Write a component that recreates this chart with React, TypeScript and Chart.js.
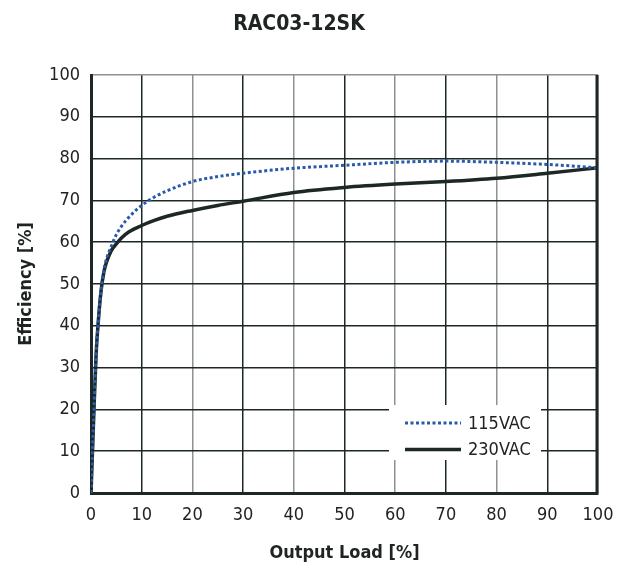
import React, { useEffect, useRef } from "react";
import { Chart, registerables } from "chart.js";

Chart.register(...registerables);

const TITLE = "RAC03-12SK";
const X_TITLE = "Output Load [%]";
const Y_TITLE = "Efficiency [%]";
const SERIES_NAMES = ["115VAC", "230VAC"];
const LOAD = [0, 0.5, 1, 1.5, 2, 2.5, 3, 4, 5, 6, 7.5, 10, 12.5, 15, 20, 25, 30, 40, 50, 60, 70, 80, 90, 100];
const EFF_115 = [0, 17, 33, 42, 48.5, 53, 55.8, 59, 61.8, 63.8, 66, 68.8, 70.8, 72.3, 74.5, 75.7, 76.5, 77.7, 78.4, 79.1, 79.4, 79.1, 78.6, 77.8];
const EFF_230 = [0, 17, 33, 42, 48.5, 52.6, 55, 58, 59.6, 61, 62.5, 64, 65.2, 66.2, 67.6, 68.8, 69.8, 71.9, 73.1, 73.9, 74.5, 75.3, 76.5, 77.8];
const X_TICKS = [0, 10, 20, 30, 40, 50, 60, 70, 80, 90, 100];
const Y_TICKS = [0, 10, 20, 30, 40, 50, 60, 70, 80, 90, 100];

const FONT = '"Liberation Sans Narrow", "DejaVu Sans Condensed", "Arial Narrow", sans-serif';
const DARK = "#1c2726";
const GRAY = "#8d9292";
const BLUE = "#2a5ba8";

const framePlugin = {
  id: "frame",
  afterDatasetsDraw(chart: any) {
    const { ctx, chartArea } = chart;
    ctx.save();
    ctx.strokeStyle = DARK;
    ctx.lineWidth = 3;
    ctx.beginPath();
    ctx.moveTo(chartArea.right - 1, chartArea.top);
    ctx.lineTo(chartArea.right - 1, chartArea.bottom);
    ctx.stroke();
    ctx.restore();
  },
};

const legendPlugin = {
  id: "insideLegend",
  afterDraw(chart: any) {
    const { ctx, chartArea } = chart;
    const left = chartArea.right - 209;
    const top = chartArea.bottom - 88;
    ctx.save();
    ctx.fillStyle = "#ffffff";
    ctx.fillRect(left, top, 152, 55);
    chart.data.datasets.forEach((ds: any, i: number) => {
      const y = top + 18 + i * 26.5;
      ctx.strokeStyle = ds.borderColor;
      ctx.lineWidth = ds.borderWidth;
      ctx.setLineDash(ds.borderDash || []);
      ctx.beginPath();
      ctx.moveTo(left + 16, y);
      ctx.lineTo(left + 72, y);
      ctx.stroke();
      ctx.setLineDash([]);
      ctx.fillStyle = "#222";
      ctx.font = `18px ${FONT}`;
      ctx.textBaseline = "middle";
      ctx.textAlign = "left";
      ctx.fillText(ds.label, left + 79, y + 1);
    });
    ctx.restore();
  },
};

export default function App() {
  const ref = useRef<HTMLCanvasElement | null>(null);

  useEffect(() => {
    document.body.style.margin = "0";
    const canvas = ref.current;
    if (!canvas) return;
    const chart = new Chart(canvas, {
      type: "line",
      data: {
        datasets: [
          {
            label: SERIES_NAMES[0],
            data: LOAD.map((x, i) => ({ x, y: EFF_115[i] })),
            borderColor: BLUE,
            borderWidth: 3,
            borderDash: [3, 2.5],
            pointRadius: 0,
            cubicInterpolationMode: "monotone",
            fill: false,
          },
          {
            label: SERIES_NAMES[1],
            data: LOAD.map((x, i) => ({ x, y: EFF_230[i] })),
            borderColor: DARK,
            borderWidth: 3.5,
            pointRadius: 0,
            cubicInterpolationMode: "monotone",
            fill: false,
          },
        ],
      },
      options: {
        animation: false,
        responsive: false,
        devicePixelRatio: 1,
        layout: { padding: { left: 0, right: 28, top: 0, bottom: 0 } },
        plugins: {
          legend: { display: false },
          tooltip: { enabled: false },
          title: {
            display: true,
            text: TITLE,
            color: "#1e2422",
            font: { family: FONT, size: 21, weight: "bold" },
            padding: { top: 12, bottom: 37.8 },
          },
        },
        scales: {
          x: {
            type: "linear",
            min: 0,
            max: 100,
            afterBuildTicks: (s: any) => {
              s.ticks = X_TICKS.map((v) => ({ value: v }));
            },
            afterFit: (s: any) => {
              s.height = 75;
            },
            ticks: {
              color: "#222",
              font: { family: FONT, size: 18 },
              padding: 12,
              maxRotation: 0,
              autoSkip: false,
            },
            grid: {
              drawTicks: false,
              lineWidth: 1.5,
              color: (c: any) => (c.tick && c.tick.value % 20 === 0 ? GRAY : DARK),
            },
            border: { color: DARK, width: 3 },
            title: {
              display: true,
              text: X_TITLE,
              color: "#1e2422",
              font: { family: FONT, size: 18, weight: "bold" },
              padding: { top: 0, bottom: 4 },
            },
          },
          y: {
            type: "linear",
            min: 0,
            max: 100,
            afterBuildTicks: (s: any) => {
              s.ticks = Y_TICKS.map((v) => ({ value: v }));
            },
            afterFit: (s: any) => {
              s.width = 91;
            },
            ticks: {
              color: "#222",
              font: { family: FONT, size: 18 },
              padding: 11,
              autoSkip: false,
            },
            grid: {
              drawTicks: false,
              lineWidth: 1.5,
              color: (c: any) => (c.tick && c.tick.value === 100 ? GRAY : DARK),
            },
            border: { color: DARK, width: 3 },
            title: {
              display: true,
              text: Y_TITLE,
              color: "#1e2422",
              font: { family: FONT, size: 18, weight: "bold" },
              padding: { top: 16, bottom: 0 },
            },
          },
        },
      },
      plugins: [framePlugin, legendPlugin],
    } as any);
    return () => chart.destroy();
  }, []);

  return (
    <div style={{ position: "absolute", left: 0, top: 0, width: 626, height: 568, background: "#fff" }}>
      <canvas ref={ref} width={626} height={568} />
    </div>
  );
}
